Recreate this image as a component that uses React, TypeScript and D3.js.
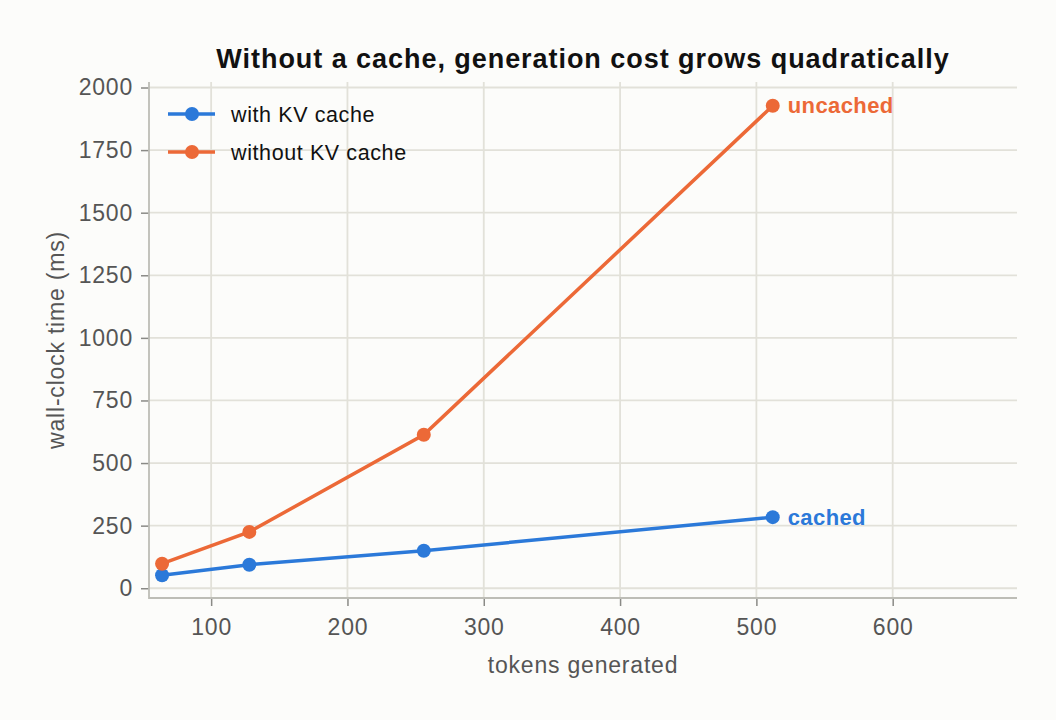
import { useEffect, useRef } from "react";
import * as d3 from "d3";

// tokens generated vs wall-clock time, with and without KV cache
const tokens = [64, 128, 256, 512];
const cachedMs = [52, 94, 150, 284];
const uncachedMs = [98, 225, 613, 1927];
const xTicks = [100, 200, 300, 400, 500, 600];
const yTicks = [0, 250, 500, 750, 1000, 1250, 1500, 1750, 2000];

const BLUE = "#2b79d9";
const ORANGE = "#ec6937";
const BG = "#fcfcfa";
const FONT = "'Liberation Sans', Arial, Helvetica, sans-serif";

export default function App() {
  const svgRef = useRef<SVGSVGElement | null>(null);

  useEffect(() => {
    document.body.style.margin = "0";
    document.body.style.background = BG;
    const svg = d3.select(svgRef.current);
    svg.selectAll("*").remove();

    const W = 1056;
    const H = 720;
    const left = 149;
    const right = 1017;
    const top = 82;
    const bottom = 598;

    const x = d3.scaleLinear().domain([54.4, 691.2]).range([left, right]);
    const y = d3.scaleLinear().domain([-39, 2022]).range([bottom, top]);

    svg.attr("viewBox", `0 0 ${W} ${H}`).style("font-family", FONT);
    svg.append("rect").attr("width", W).attr("height", H).attr("fill", BG);

    // grid
    const grid = svg.append("g").attr("stroke", "#e2e1d9").attr("stroke-width", 1.8);
    grid
      .selectAll("line.h")
      .data(yTicks)
      .join("line")
      .attr("x1", left)
      .attr("x2", right)
      .attr("y1", (d) => y(d))
      .attr("y2", (d) => y(d));
    grid
      .selectAll("line.v")
      .data(xTicks)
      .join("line")
      .attr("y1", top)
      .attr("y2", bottom)
      .attr("x1", (d) => x(d))
      .attr("x2", (d) => x(d));

    // axes
    const xAxis = svg
      .append("g")
      .attr("transform", `translate(0,${bottom})`)
      .call(d3.axisBottom(x).tickValues(xTicks).tickSize(8).tickPadding(13).tickFormat(d3.format("d")));
    const yAxis = svg
      .append("g")
      .attr("transform", `translate(${left},0)`)
      .call(d3.axisLeft(y).tickValues(yTicks).tickSize(8).tickPadding(8).tickFormat(d3.format("d")));
    for (const a of [xAxis, yAxis]) {
      a.select(".domain").remove();
      a.selectAll("line").attr("stroke", "#8a8a86").attr("stroke-width", 1.5);
      a.selectAll("text")
        .attr("fill", "#555")
        .attr("font-size", 23)
        .attr("letter-spacing", 0.8)
        .attr("font-family", FONT);
    }
    svg
      .append("path")
      .attr("d", `M${left},${top}V${bottom}H${right}`)
      .attr("fill", "none")
      .attr("stroke", "#bdbdb6")
      .attr("stroke-width", 1.8);

    // series
    const series = [
      { name: "with KV cache", tag: "cached", color: BLUE, values: cachedMs },
      { name: "without KV cache", tag: "uncached", color: ORANGE, values: uncachedMs },
    ];
    const line = d3
      .line<number>()
      .x((_, i) => x(tokens[i]))
      .y((d) => y(d));

    series.forEach((s) => {
      svg
        .append("path")
        .attr("d", line(s.values))
        .attr("fill", "none")
        .attr("stroke", s.color)
        .attr("stroke-width", 3.5);
      svg
        .append("g")
        .selectAll("circle")
        .data(s.values)
        .join("circle")
        .attr("cx", (_, i) => x(tokens[i]))
        .attr("cy", (d) => y(d))
        .attr("r", 7)
        .attr("fill", s.color);
      const last = s.values.length - 1;
      svg
        .append("text")
        .attr("x", x(tokens[last]) + 15)
        .attr("y", y(s.values[last]))
        .attr("dy", "0.35em")
        .attr("fill", s.color)
        .attr("font-size", 22)
        .attr("letter-spacing", 0.4)
        .attr("font-weight", "bold")
        .text(s.tag);
    });

    // legend
    const legend = svg.append("g").attr("transform", "translate(168,114)");
    series.forEach((s, i) => {
      const g = legend.append("g").attr("transform", `translate(0,${i * 38})`);
      g.append("line").attr("x1", 0).attr("x2", 47).attr("stroke", s.color).attr("stroke-width", 3.5);
      g.append("circle").attr("cx", 24).attr("r", 7).attr("fill", s.color);
      g.append("text")
        .attr("x", 63)
        .attr("dy", "0.35em")
        .attr("font-size", 21.5)
        .attr("letter-spacing", 0.6)
        .attr("fill", "#111")
        .text(s.name);
    });

    // titles
    svg
      .append("text")
      .attr("x", (left + right) / 2)
      .attr("y", 68)
      .attr("text-anchor", "middle")
      .attr("font-size", 27)
      .attr("letter-spacing", 0.95)
      .attr("font-weight", "bold")
      .attr("fill", "#111")
      .text("Without a cache, generation cost grows quadratically");
    svg
      .append("text")
      .attr("x", (left + right) / 2)
      .attr("y", 673)
      .attr("text-anchor", "middle")
      .attr("font-size", 23)
      .attr("letter-spacing", 0.8)
      .attr("fill", "#555")
      .text("tokens generated");
    svg
      .append("text")
      .attr("transform", `translate(64,${(top + bottom) / 2}) rotate(-90)`)
      .attr("text-anchor", "middle")
      .attr("font-size", 23)
      .attr("letter-spacing", 0.8)
      .attr("fill", "#555")
      .text("wall-clock time (ms)");
  }, []);

  return <svg ref={svgRef} width={1056} height={720} style={{ display: "block" }} />;
}
